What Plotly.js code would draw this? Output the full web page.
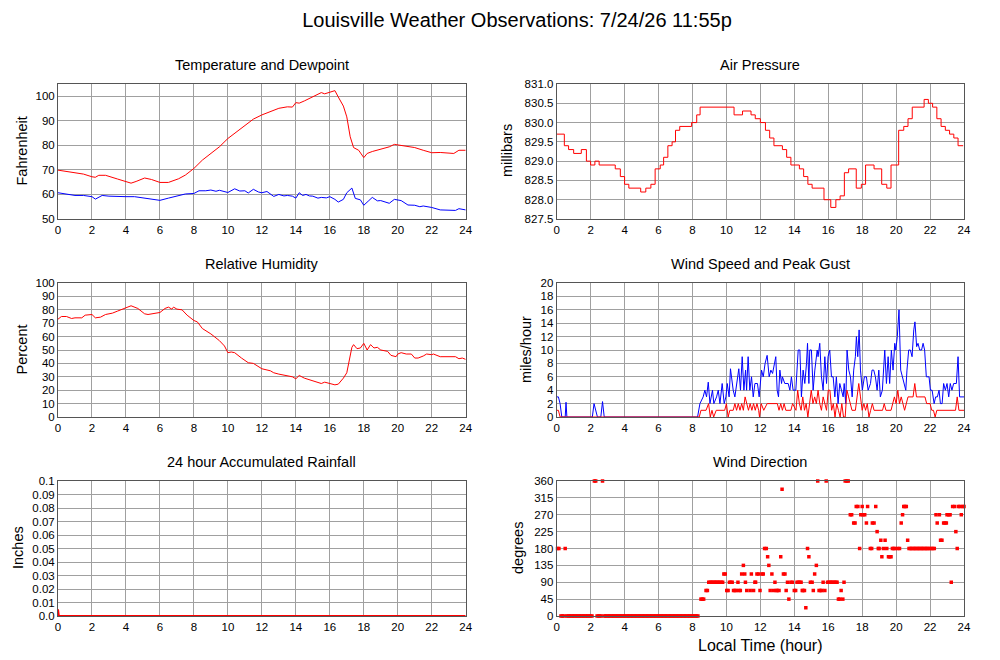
<!DOCTYPE html>
<html><head><meta charset="utf-8">
<script src="https://cdn.plot.ly/plotly-3.0.1.min.js"></script>
<style>html,body{margin:0;padding:0;background:#fff}#chart{width:1000px;height:660px}</style>
</head><body><div id="chart"></div>
<script>
// ---- Temperature (F) ----
const tempHours = [0,0.5,1,1.5,2,2.2,2.4,2.8,3.5,4,4.3,4.6,5.1,5.5,6,6.5,7.1,7.5,8,8.5,9,9.5,10,10.5,11,11.5,12,12.5,13,13.5,13.8,14,14.2,14.5,15,15.3,15.5,15.7,16,16.3,16.5,16.8,17,17.2,17.4,17.7,18,18.2,18.5,19,19.5,19.8,20.3,21,21.5,22,22.5,23,23.3,23.6,24];
const tempF = [69.9,69.4,69.0,68.3,67.2,67.0,67.8,67.8,66.3,65.4,64.6,65.3,66.7,66.1,64.9,64.9,66.4,67.9,70.6,74.0,76.7,79.4,82.8,85.5,88.2,90.7,92.4,93.9,95.1,95.7,95.6,97.4,97.2,98.1,99.7,100.6,101.5,101.0,101.6,102.3,99.7,96.0,91.6,83.5,79.1,78.0,75.0,76.7,77.5,78.5,79.4,80.4,79.9,79.1,78.0,77.0,77.1,76.7,76.7,78.0,78.0];
const dewHours = [0,0.3,0.6,1,1.5,2,2.2,2.6,3,3.5,4,4.5,5,5.5,6,6.5,7,7.5,8,8.3,8.7,9,9.3,9.5,10,10.4,10.7,11,11.2,11.5,11.8,12,12.3,12.5,12.7,13,13.3,13.5,13.8,14,14.2,14.4,14.6,14.8,15,15.3,15.5,15.8,16,16.3,16.5,16.8,17,17.3,17.5,17.8,18,18.3,18.5,18.8,19,19.5,19.8,20.2,20.6,21,21.3,21.5,22,22.5,23,23.4,23.6,24];
const dewF = [60.7,60.4,59.8,59.6,59.6,59.1,58.1,59.6,59.3,59.1,59.1,59.1,58.5,58.0,57.6,58.5,59.3,60.2,60.4,61.5,61.5,61.8,61.3,61.7,60.8,62.3,61.4,61.5,60.6,62.1,61.0,60.7,61.2,60.2,59.2,60.0,59.4,59.6,59.3,58.5,60.7,59.6,60.0,59.4,59.3,58.5,58.8,58.6,59.1,58.0,56.9,58.0,60.7,62.6,58.4,57.8,55.6,57.5,58.8,57.4,57.5,56.4,58.0,57.5,55.7,55.6,55.0,55.3,54.7,53.7,53.5,53.5,54.2,53.7];

// ---- Air pressure (mb), step series ----
const presHours = [0,0.45,0.7,1.0,1.45,1.75,2.0,2.25,2.5,3.45,3.75,4.0,4.25,4.95,5.25,5.55,5.8,6.1,6.3,6.55,6.8,7.0,7.25,7.95,8.25,8.45,10.45,10.95,11.45,11.7,12.0,12.3,12.55,12.8,13.3,13.55,13.8,14.3,14.55,14.8,15.05,15.75,16.15,16.45,16.7,16.95,17.2,17.65,17.95,18.2,18.7,19.15,19.45,19.7,20.15,20.45,20.7,20.95,21.65,21.9,22.15,22.4,22.65,22.9,23.15,23.4,23.65,23.95];
const presMb = [829.7,829.4,829.3,829.2,829.3,829.0,828.9,829.0,828.9,828.8,828.6,828.4,828.3,828.2,828.3,828.4,828.8,828.9,829.1,829.4,829.5,829.8,829.9,830.0,830.2,830.4,830.2,830.3,830.2,830.1,830.0,829.8,829.6,829.4,829.3,829.1,828.9,828.8,828.6,828.4,828.3,828.0,827.8,828.0,828.1,828.7,828.8,828.3,828.4,828.9,828.8,828.4,828.3,828.9,829.8,829.9,830.1,830.4,830.6,830.5,830.4,830.1,829.9,829.8,829.7,829.6,829.4,829.4];

// ---- Relative humidity (%) ----
const rhHours = [0,0.2,0.5,0.8,1.0,1.4,1.6,2.0,2.2,2.5,2.8,3.2,3.5,4.0,4.3,4.7,5.1,5.3,6.0,6.3,6.5,6.7,6.8,7.0,7.3,7.6,8.0,8.2,8.5,9.0,9.5,9.8,10.0,10.2,10.4,10.8,11.2,11.5,12.0,12.5,12.7,13.0,13.5,13.8,14.0,14.2,14.5,15.0,15.5,15.7,16.0,16.3,16.5,16.8,17.0,17.2,17.3,17.4,17.6,17.8,18.0,18.2,18.4,18.6,18.8,19.0,19.4,19.6,19.9,20.0,20.2,20.5,20.8,21.0,21.2,21.5,21.7,22.0,22.1,22.5,23.0,23.4,23.6,23.8,24];
const rhPct = [73,75,75,73.5,74,74,76,76.5,74,74.5,76.5,77.5,79,81.5,83,81,77,76.5,78,81,82,80.5,82,80.5,80,76,72,71,66,62,57,53,48,48.5,48,44,40.5,40,36,34.5,33,32,31,30,28.5,31,29,27,25,26,25,24,24.5,29,33,45,52,54,51,51.5,55,50,54,51.5,52,50,49,46,45,47,48,47,47,44,44,45.5,47,46.5,47,45,45,45,43.5,44,43];

// ---- Wind gust (mph) ----
const gustHours = [0,0.1,0.2,0.3,0.5,0.55,0.6,2.1,2.2,2.4,2.6,2.7,2.8,8.3,8.44,8.63,8.73,8.83,8.93,9.03,9.18,9.26,9.42,9.52,9.62,9.75,9.87,9.97,10.05,10.16,10.24,10.4,10.5,10.64,10.73,10.83,10.93,11.03,11.13,11.19,11.28,11.38,11.48,11.58,11.68,11.83,11.93,12.07,12.17,12.28,12.4,12.52,12.62,12.72,12.81,12.91,12.99,13.07,13.15,13.25,13.3,13.44,13.64,13.74,13.83,13.93,14.09,14.23,14.33,14.42,14.52,14.62,14.72,14.78,14.86,14.91,15.01,15.11,15.21,15.35,15.4,15.5,15.6,15.7,15.8,15.9,15.99,16.09,16.19,16.29,16.39,16.48,16.58,16.68,16.78,16.88,16.94,17.03,17.11,17.21,17.31,17.41,17.5,17.6,17.66,17.74,17.82,17.9,18.01,18.13,18.25,18.35,18.49,18.58,18.68,18.78,18.88,18.98,19.07,19.19,19.33,19.43,19.53,19.62,19.72,19.82,19.92,19.98,20.07,20.17,20.27,20.37,20.47,20.57,20.64,20.74,20.84,20.94,21.04,21.11,21.21,21.29,21.39,21.5,21.59,21.68,21.78,21.94,22.02,22.12,22.24,22.33,22.43,22.53,22.61,22.71,22.8,22.9,23.0,23.1,23.19,23.29,23.39,23.49,23.55,23.65,23.74,24];
const gustMph = [3,3,2,0,0,2.2,0,0,2,0,0,2.3,0,0,2,3,4,3,5.2,2,4,2,3,4,2,5,2,3,5,3,7.2,4,3,6,7.2,4,9,4,7,4,9,4,6,3,5,5,3,7,6,8,9.2,6,7,6.5,8,9,4,3,7,5,6,5,5,4,6,4,4,10,10,3,7,5,8,11,5,10,10,4,7,10,9,11,6,4,9,5,9,10,6,6,3,6,2,5,4,3,5,2,10,7,6,3,7,9,12,9,13,7,4,6,6,4,5,7,7,6,4,7,3,4,10,5,9,5,10,7,11,10,12,16,7,6,5,4,7,10,10,9,13,14.2,10.5,11,10,10,11,10,6,6,4,4,2,3,3,4,2,2,5,4,5,3,5,4,5,5,5,9,3,3];

// ---- Wind speed (mph) ----
const speedHours = [0,0.1,0.2,8.4,8.5,8.8,8.95,9.05,9.15,9.25,9.4,9.9,10.0,10.1,10.2,10.4,10.5,10.6,10.7,10.8,10.9,11.0,11.1,11.2,11.3,11.4,11.5,11.6,11.7,11.8,11.9,11.95,12.05,12.2,12.4,13.0,13.1,13.2,13.3,13.4,13.5,13.8,13.9,14.1,14.2,14.3,14.4,14.5,14.6,14.7,14.8,14.9,15.0,15.1,15.2,15.3,15.4,15.5,15.6,15.7,15.8,15.9,16.0,16.1,16.2,16.3,16.4,16.5,16.6,16.7,16.8,16.9,17.0,17.1,17.2,17.3,17.4,17.6,17.7,17.8,17.9,18.0,18.1,18.2,18.3,18.4,18.5,18.6,18.7,19.2,19.3,19.4,19.7,19.8,19.9,20.0,20.1,20.2,20.3,20.4,20.5,20.7,21.0,21.1,21.2,21.3,21.7,21.8,22.0,22.1,22.2,22.3,22.4,23.5,23.6,23.7,24];
const speedMph = [1,1,0,0,1,1,2,0,1,0,1,1,2,0,1,1,2,1,2,1,2,1,3,2,1,2,1,2,1,2,1,0,2,1,2,2,1,2,1,2,1,1,2,1,4,2,1,3,1,2,0,2,4,2,3,2,4,2,1,3,2,1,4,4,1,2,0,2,1,0,2,0,0,4,3,2,1,1,3,5,3,1,2,1,2,0,1,2,1,1,2,1,1,2,3,2,4,2,3,2,1,3,3,5,3,3,3,2,2,1,1,0,1,1,3,1,1];

// ---- Wind direction (degrees) ----
const dirHours = [0.05,0.13,0.5,0.25,0.33,0.42,0.58,0.67,0.75,0.83,0.92,1.0,1.08,1.17,1.25,1.33,1.42,1.5,1.58,1.67,1.75,1.83,1.92,2.0,2.08,2.22,2.3,2.38,2.46,2.54,2.62,2.7,2.8,2.88,2.96,3.04,3.12,3.2,3.28,3.36,3.44,3.52,3.6,3.68,3.76,3.84,3.92,4.0,4.08,4.16,4.24,4.32,4.4,4.48,4.56,4.64,4.72,4.8,4.88,4.96,5.04,5.12,5.2,5.28,5.36,5.44,5.52,5.6,5.68,5.76,5.84,5.92,6.0,6.08,6.16,6.24,6.32,6.4,6.48,6.56,6.64,6.72,6.8,6.88,6.96,7.04,7.12,7.2,7.28,7.36,7.44,7.52,7.6,7.68,7.76,7.84,7.92,8.0,8.08,8.16,8.24,8.32,8.5,8.58,8.66,8.8,8.88,8.96,9.04,9.12,9.2,9.28,9.36,9.44,9.52,9.6,9.7,9.78,9.85,9.93,10.02,10.1,10.18,10.26,10.34,10.42,10.5,10.58,10.68,10.75,10.82,10.9,11.0,11.08,11.12,11.2,11.4,11.47,11.6,11.68,11.72,11.8,11.9,11.98,12.1,12.17,12.25,12.35,12.43,12.5,12.58,12.68,12.78,12.86,12.94,13.0,13.1,13.2,13.28,13.36,13.45,13.52,13.6,13.68,13.8,13.88,14.0,14.08,14.16,14.24,14.32,14.4,14.47,14.52,14.6,14.68,14.78,14.86,14.95,15.05,15.12,15.2,15.3,15.38,15.46,15.55,15.62,15.7,15.8,15.88,15.96,16.04,16.12,16.2,16.28,16.36,16.45,16.52,16.6,16.68,16.76,16.86,16.93,17.0,17.1,17.18,17.3,17.38,17.5,17.58,17.65,17.75,17.85,17.92,18.0,18.05,18.15,18.25,18.32,18.48,18.56,18.6,18.7,18.8,18.88,18.95,19.0,19.1,19.16,19.25,19.35,19.45,19.55,19.62,19.7,19.78,19.86,19.94,20.1,20.2,20.3,20.38,20.45,20.52,20.6,20.68,20.76,20.84,20.92,21.0,21.08,21.16,21.24,21.32,21.4,21.48,21.56,21.64,21.72,21.8,21.88,21.96,22.08,22.16,22.25,22.35,22.42,22.55,22.62,22.7,22.8,22.88,22.96,23.0,23.1,23.18,23.25,23.33,23.45,23.52,23.6,23.68,23.76,23.84,23.92,24.0];
const dirDeg = [180,180,180,0,0,0,0,0,0,0,0,0,0,0,0,0,0,0,0,0,0,0,0,0,0,360,360,0,0,0,0,360,0,0,0,0,0,0,0,0,0,0,0,0,0,0,0,0,0,0,0,0,0,0,0,0,0,0,0,0,0,0,0,0,0,0,0,0,0,0,0,0,0,0,0,0,0,0,0,0,0,0,0,0,0,0,0,0,0,0,0,0,0,0,0,0,0,0,0,0,0,0,45,45,45,68,68,90,90,90,90,90,90,90,90,90,90,90,112,112,68,68,90,90,90,68,68,68,90,68,68,112,135,112,90,68,68,112,68,90,90,112,112,68,112,112,180,180,158,135,68,112,68,90,68,68,68,158,338,112,112,68,90,45,90,90,68,68,90,90,90,90,68,68,68,22,180,158,90,90,68,112,135,360,68,68,68,90,68,360,90,90,90,90,90,90,90,90,45,45,68,45,90,360,360,360,270,270,248,248,292,292,180,270,292,270,270,248,292,180,180,248,248,292,225,180,180,202,158,180,202,180,158,158,158,180,180,180,180,180,248,270,292,292,292,202,180,180,180,180,180,180,180,180,180,180,180,180,180,180,180,180,180,180,180,270,248,270,202,202,248,248,248,270,270,270,90,292,292,225,180,292,292,270,292,292,270,270,270];

// ---- Rainfall (inches) ----
const rainHours = [0,0.05,24];
const rainIn = [0.005,0,0];

const hourTicks = [0,2,4,6,8,10,12,14,16,18,20,22,24];
const rainTicks = [0,0.01,0.02,0.03,0.04,0.05,0.06,0.07,0.08,0.09,0.1];
const rainTickText = ['0.0','0.01','0.02','0.03','0.04','0.05','0.06','0.07','0.08','0.09','0.1'];
const dirTicks = [0,45,90,135,180,225,270,315,360];

const RED = '#ff0000', BLUE = '#0000ff';
const FONT = 'Liberation Sans, Arial, Helvetica, sans-serif';

const traces = [
  {x: tempHours, y: tempF, xaxis:'x', yaxis:'y', mode:'lines', line:{color:RED, width:1}},
  {x: dewHours, y: dewF, xaxis:'x', yaxis:'y', mode:'lines', line:{color:BLUE, width:1}},
  {x: presHours, y: presMb, xaxis:'x2', yaxis:'y2', mode:'lines', line:{color:RED, width:1, shape:'hv'}},
  {x: rhHours, y: rhPct, xaxis:'x3', yaxis:'y3', mode:'lines', line:{color:RED, width:1}},
  {x: gustHours, y: gustMph, xaxis:'x4', yaxis:'y4', mode:'lines', line:{color:BLUE, width:1}},
  {x: speedHours, y: speedMph, xaxis:'x4', yaxis:'y4', mode:'lines', line:{color:RED, width:1}},
  {x: rainHours, y: rainIn, xaxis:'x5', yaxis:'y5', mode:'lines', line:{color:RED, width:2}},
  {x: dirHours, y: dirDeg, xaxis:'x6', yaxis:'y6', mode:'markers', cliponaxis:false,
   marker:{color:RED, size:3.5, symbol:'square', line:{width:0}}}
];

const colL = [0.058, 0.4657], colR = [0.5567, 0.964];
const row1 = [1-219/660, 1-84/660], row2 = [1-417/660, 1-283/660], row3 = [1-616/660, 1-481/660];

function xa(dom, anchor){
  return {domain: dom, anchor: anchor, range:[0,24], tickvals: hourTicks, showgrid:true, gridcolor:'#a0a0a0', gridwidth:1,
    showline:true, mirror:true, linecolor:'#555', linewidth:1, zeroline:false, ticks:'', fixedrange:true,
    tickfont:{size:11.5, color:'#000', family:FONT}};
}
function ya(dom, anchor, range, ticks, extra){
  return Object.assign({domain: dom, anchor: anchor, range: range, tickvals: ticks, showgrid:true, gridcolor:'#a0a0a0', gridwidth:1,
    showline:true, mirror:true, linecolor:'#555', linewidth:1, zeroline:false, ticks:'', fixedrange:true,
    tickfont:{size:11.5, color:'#000', family:FONT}}, extra||{});
}

function subTitle(text, xc, ypx){
  return {text:text, xref:'paper', yref:'paper', x:xc, y:1-ypx/660, showarrow:false, xanchor:'center', yanchor:'middle',
    font:{size:14.5, color:'#000', family:FONT}};
}
function axTitle(text, xpx, ypx){
  return {text:text, xref:'paper', yref:'paper', x:xpx/1000, y:1-ypx/660, showarrow:false, xanchor:'center', yanchor:'middle',
    textangle:-90, font:{size:14.5, color:'#000', family:FONT}};
}
const cL = (colL[0]+colL[1])/2, cR = (colR[0]+colR[1])/2;

const layout = {
  width:1000, height:660, margin:{l:0,r:0,t:0,b:0}, paper_bgcolor:'#fff', plot_bgcolor:'#fff', showlegend:false,
  font:{family:FONT, color:'#000'},
  title:{text:'Louisville Weather Observations: 7/24/26 11:55p', x:0.517, xanchor:'center', y:1-20/660, yanchor:'middle',
    font:{size:20, color:'#000', family:FONT}},
  xaxis: xa(colL,'y'), yaxis: ya(row1,'x',[50,105],[50,60,70,80,90,100]),
  xaxis2: xa(colR,'y2'), yaxis2: ya(row1,'x2',[827.5,831.0],[827.5,828,828.5,829,829.5,830,830.5,831],{tickformat:'.1f'}),
  xaxis3: xa(colL,'y3'), yaxis3: ya(row2,'x3',[0,100],[0,10,20,30,40,50,60,70,80,90,100]),
  xaxis4: xa(colR,'y4'), yaxis4: ya(row2,'x4',[0,20],[0,2,4,6,8,10,12,14,16,18,20]),
  xaxis5: xa(colL,'y5'), yaxis5: ya(row3,'x5',[0,0.1],rainTicks,{ticktext:rainTickText}),
  xaxis6: xa(colR,'y6'), yaxis6: ya(row3,'x6',[0,360],dirTicks),
  annotations: [
    subTitle('Temperature and Dewpoint', cL, 65),
    subTitle('Air Pressure', cR, 65),
    subTitle('Relative Humidity', cL, 264),
    subTitle('Wind Speed and Peak Gust', cR, 264),
    subTitle('24 hour Accumulated Rainfall', cL, 462),
    subTitle('Wind Direction', cR, 462),
    axTitle('Fahrenheit', 21.5, 151),
    axTitle('millibars', 507, 151),
    axTitle('Percent', 21.5, 350),
    axTitle('miles/hour', 526, 350),
    axTitle('Inches', 18, 548),
    axTitle('degrees', 518, 548),
    {text:'Local Time (hour)', xref:'paper', yref:'paper', x:cR, y:1-645/660, showarrow:false, xanchor:'center', yanchor:'middle',
     font:{size:16, color:'#000', family:FONT}}
  ]
};

Plotly.newPlot('chart', traces, layout, {staticPlot:true, displayModeBar:false});
</script>
</body></html>
